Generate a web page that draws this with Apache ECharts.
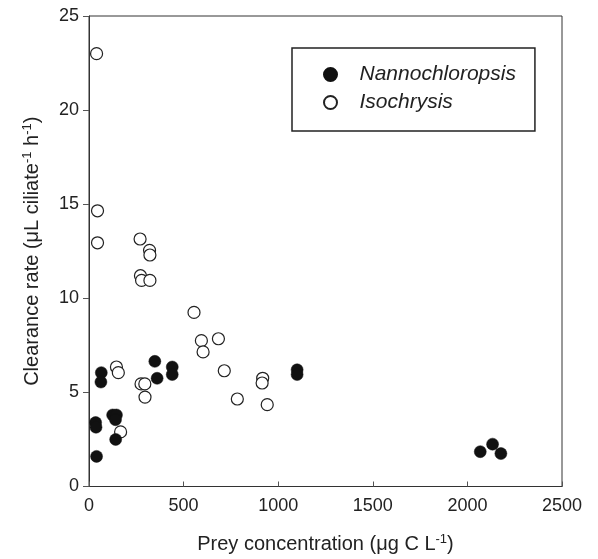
<!DOCTYPE html>
<html>
<head>
<meta charset="utf-8">
<script src="https://cdn.jsdelivr.net/npm/echarts@6/dist/echarts.min.js"></script>
<style>
  html, body { margin: 0; padding: 0; background: #fff; }
  #chart { width: 598px; height: 559px; }
</style>
</head>
<body>
<div id="chart"></div>
<script>
// [prey concentration (ug C/L), clearance rate (uL ciliate^-1 h^-1)]
const nannochloropsis = [
  [35, 3.4], [37, 3.15], [40, 1.6], [65, 6.05], [63, 5.55],
  [125, 3.8], [145, 3.8], [140, 3.55], [141, 2.5],
  [348, 6.65], [360, 5.75], [440, 6.35], [440, 5.95],
  [1100, 6.2], [1100, 5.95],
  [2068, 1.85], [2133, 2.25], [2177, 1.75]
]
const isochrysis = [
  [40, 23], [45, 14.65], [45, 12.95],
  [270, 13.15], [320, 12.55], [322, 12.3], [272, 11.2], [278, 10.95], [322, 10.95],
  [555, 9.25], [594, 7.75], [684, 7.85], [603, 7.15], [715, 6.15],
  [918, 5.75], [915, 5.5], [784, 4.65], [942, 4.35],
  [145, 6.35], [155, 6.05], [275, 5.45], [295, 5.45], [296, 4.75], [167, 2.9]
]
const xTicks = [0, 500, 1000, 1500, 2000, 2500]
const yTicks = [0, 5, 10, 15, 20, 25]

const font = 'Liberation Sans, Arial, sans-serif'
const ink = '#222'

const chart = echarts.init(document.getElementById('chart'), null, { renderer: 'canvas' })
chart.setOption({
  animation: false,
  backgroundColor: '#fff',
  grid: { left: 89, right: 36, top: 16, bottom: 68, show: true, borderColor: '#333', borderWidth: 1 },
  legend: {
    orient: 'vertical', left: 292, top: 48,
    padding: [16, 19, 18, 31],
    borderColor: '#222', borderWidth: 1.5,
    itemWidth: 48, itemHeight: 13, itemGap: 7,
    textStyle: { fontFamily: font, fontSize: 21, fontStyle: 'italic', color: ink },
    data: ['Nannochloropsis', 'Isochrysis']
  },
  xAxis: {
    type: 'value', min: xTicks[0], max: xTicks[xTicks.length - 1], interval: 500,
    axisLine: { lineStyle: { color: '#333', width: 1 } },
    axisTick: { inside: true, length: 5, lineStyle: { color: '#555' } },
    axisLabel: { fontFamily: font, fontSize: 18, color: ink, margin: 11, formatter: v => String(v) },
    splitLine: { show: false },
    name: '{t|Prey concentration (μg C L}{s|-1}{t|)}',
    nameLocation: 'middle', nameGap: 46,
    nameTextStyle: {
      rich: {
        t: { fontFamily: font, fontSize: 20, color: ink },
        s: { fontFamily: font, fontSize: 13, color: ink, padding: [0, 0, 10, 0] }
      }
    }
  },
  yAxis: {
    type: 'value', min: yTicks[0], max: yTicks[yTicks.length - 1], interval: 5,
    axisLine: { show: true, lineStyle: { color: '#333', width: 1 } },
    axisTick: { show: true, inside: false, length: 6, lineStyle: { color: '#555' } },
    axisLabel: { fontFamily: font, fontSize: 18, color: ink, margin: 10 },
    splitLine: { show: false },
    name: '{t|Clearance rate (μL ciliate}{s|-1}{t| h}{s|-1}{t|)}',
    nameLocation: 'middle', nameGap: 45,
    nameTextStyle: {
      rich: {
        t: { fontFamily: font, fontSize: 20, color: ink },
        s: { fontFamily: font, fontSize: 13, color: ink, padding: [0, 0, 10, 0] }
      }
    }
  },
  series: [
    {
      name: 'Nannochloropsis', type: 'scatter', data: nannochloropsis,
      symbol: 'circle', symbolSize: 12,
      itemStyle: { color: '#111', borderColor: '#111', borderWidth: 0.5, opacity: 1 },
      z: 3
    },
    {
      name: 'Isochrysis', type: 'scatter', data: isochrysis,
      symbol: 'circle', symbolSize: 12,
      itemStyle: { color: '#fff', borderColor: '#222', borderWidth: 1.2, opacity: 1 },
      z: 2
    }
  ]
})
</script>
</body>
</html>
